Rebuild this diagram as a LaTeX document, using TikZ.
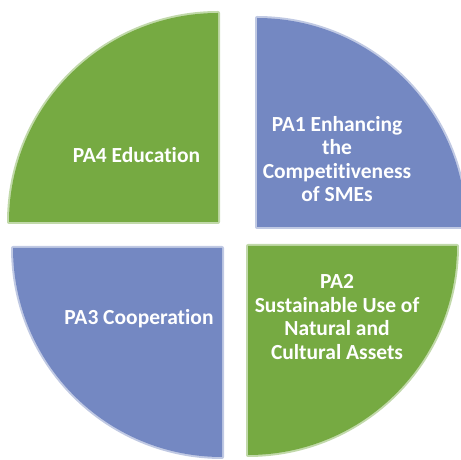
\documentclass[tikz,border=0pt]{standalone}
\usepackage{fontspec}
\setmainfont{Carlito}[Ligatures=NoCommon]
\usetikzlibrary{positioning}

\definecolor{pagreen}{RGB}{118,170,66}
\definecolor{pablue}{RGB}{116,136,194}

\begin{document}
\begin{tikzpicture}
  [
    x=1pt, y=1pt,
    greenpart/.style={fill=pagreen},
    bluepart/.style={fill=pablue},
    soft/.style={draw=#1, draw opacity=0.45, line width=4pt, line join=round},
    patext/.style={text=white, font=\bfseries\fontsize{21.5}{23.6}\selectfont, align=center}
  ]
  \useasboundingbox (0,0) rectangle (461,460);
  \clip (0,0) rectangle (461,460);

  % quadrants, each pulled away from the middle
  \coordinate (tl) at (218,238);
  \coordinate (tr) at (257,233);
  \coordinate (bl) at (222,212);
  \coordinate (br) at (248,214);

  \foreach \c/\a/\b/\col in {tl/180/90/pagreen, tr/90/0/pablue,
                             bl/270/180/pablue, br/0/-90/pagreen}
  {
    \path[soft=\col] (\c) -- ++(\a:209) arc[start angle=\a, end angle=\b, radius=209] -- cycle;
    \path[fill=\col] (\c) -- ++(\a:209) arc[start angle=\a, end angle=\b, radius=209] -- cycle;
  }

  % labels
  \node[patext] (pafour) at (136.5,305) {PA4 Education};
  \node[patext] (paone) at (337,301) {PA1 Enhancing\\the\\Competitiveness\\of SMEs};
  \node[patext] (pathree) at (139,141) {PA3 Cooperation};
  \node[patext] (patwo) at (337,143) {PA2\\Sustainable Use of\\Natural and\\Cultural Assets};
\end{tikzpicture}
\end{document}
